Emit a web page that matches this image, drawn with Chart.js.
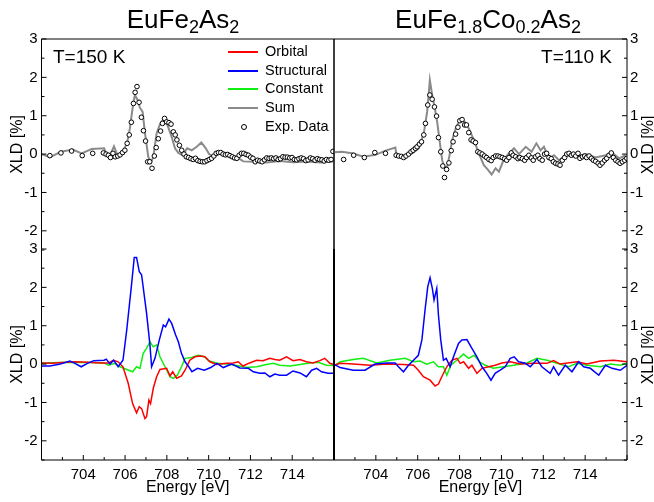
<!DOCTYPE html>
<html>
<head>
<meta charset="utf-8">
<script src="https://cdn.jsdelivr.net/npm/chart.js@4.4.1/dist/chart.umd.min.js"></script>
<style>
  body { margin: 0; background: #fff; }
  #wrap { position: relative; width: 654px; height: 502px; overflow: hidden;
          font-family: "Liberation Sans", Arial, sans-serif; color: #000; }
  #wrap canvas { position: absolute; left: 0; top: 0; }
  .t { position: absolute; white-space: nowrap; line-height: 1; }
  .ttl { font-size: 26px; text-align: center; }
  .sb { font-size: 18px; vertical-align: -5px; }
  .tl { font-size: 19px; }
  .lg { font-size: 14.5px; }
  .yt { font-size: 16px; width: 80px; text-align: center; transform: rotate(-90deg); }
</style>
</head>
<body>
<div id="wrap">
  <canvas id="tl" width="654" height="502"></canvas>
  <canvas id="tr" width="654" height="502"></canvas>
  <canvas id="bl" width="654" height="502"></canvas>
  <canvas id="br" width="654" height="502"></canvas>
  <div class="t ttl" style="left:83px;width:200px;top:6px">EuFe<span class="sb">2</span>As<span class="sb">2</span></div>
  <div class="t ttl" style="left:388px;width:200px;top:6px">EuFe<span class="sb">1.8</span>Co<span class="sb">0.2</span>As<span class="sb">2</span></div>
  <div class="t tl" style="left:53px;top:47px">T=150 K</div>
  <div class="t tl" style="right:42px;top:47px">T=110 K</div>
  <div class="t yt" style="left:608px;top:137px">XLD [%]</div>
  <div class="t yt" style="left:608px;top:347px">XLD [%]</div>
  <div id="legend"></div>
</div>
<script>
// energy axis (eV) and XLD axis (%)
const energyRange = [702, 716];
const xldRange = [-2.5, 3];

const legendNames = ['Orbital', 'Structural', 'Constant', 'Sum', 'Exp. Data'];

// ---- EuFe2As2, T=150 K ----
const tlSum = [[702.0,0.0],[702.41,-0.08],[702.93,0.06],[703.5,0.12],[703.92,0.02],[704.4,0.13],[705.0,0.15],[705.1,-0.01],[705.28,-0.03],[705.47,0.2],[705.65,-0.05],[705.92,0.08],[706.11,0.32],[706.23,0.67],[706.39,1.32],[706.47,1.54],[706.6,1.41],[706.71,1.21],[706.84,1.1],[706.95,0.56],[707.11,-0.07],[707.24,-0.22],[707.35,-0.07],[707.51,0.54],[707.67,0.78],[707.84,0.91],[708.0,0.8],[708.23,0.45],[708.39,0.15],[708.55,0.03],[708.75,-0.03],[708.97,0.15],[709.19,0.1],[709.43,0.19],[709.65,0.3],[709.84,0.17],[710.02,0.0],[710.25,-0.07],[710.58,0.05],[710.86,0.03],[711.15,-0.06],[711.4,-0.1],[711.66,-0.19],[712.13,-0.2],[712.77,-0.22],[713.41,-0.18],[714.05,-0.21],[714.69,-0.19],[715.33,-0.22],[715.96,-0.19]];
const tlExp = [[702.4,-0.04],[702.93,0.03],[703.44,0.08],[703.95,-0.04],[704.45,0.02],[704.96,0.03],[705.09,0.0],[705.2,-0.03],[705.3,-0.09],[705.42,0.02],[705.53,-0.07],[705.65,-0.05],[705.76,-0.02],[705.88,0.04],[705.99,0.1],[706.1,0.28],[706.2,0.5],[706.3,0.83],[706.4,1.32],[706.48,1.61],[706.57,1.76],[706.67,1.35],[706.78,0.96],[706.88,0.61],[706.98,0.34],[707.08,-0.2],[707.18,-0.2],[707.29,-0.37],[707.4,-0.05],[707.49,0.17],[707.59,0.4],[707.7,0.6],[707.79,0.8],[707.89,0.93],[707.99,0.84],[708.1,0.82],[708.2,0.78],[708.31,0.58],[708.4,0.5],[708.48,0.37],[708.6,0.23],[708.71,0.1],[708.82,0.0],[708.93,-0.07],[709.04,-0.09],[709.15,-0.12],[709.26,-0.14],[709.37,-0.11],[709.48,-0.17],[709.59,-0.19],[709.7,-0.2],[709.81,-0.2],[709.92,-0.17],[710.03,-0.14],[710.14,-0.11],[710.25,-0.05],[710.36,0.02],[710.47,0.04],[710.58,0.04],[710.69,0.0],[710.8,-0.02],[710.91,-0.01],[711.02,-0.04],[711.13,-0.07],[711.24,-0.1],[711.35,-0.11],[711.46,-0.03],[711.57,0.02],[711.68,0.02],[711.79,-0.01],[711.9,-0.03],[712.01,-0.08],[712.12,-0.11],[712.23,-0.2],[712.34,-0.16],[712.45,-0.18],[712.56,-0.2],[712.67,-0.15],[712.78,-0.1],[712.89,-0.11],[713.0,-0.1],[713.11,-0.12],[713.22,-0.1],[713.33,-0.14],[713.44,-0.12],[713.55,-0.07],[713.66,-0.08],[713.77,-0.08],[713.88,-0.1],[713.99,-0.09],[714.1,-0.14],[714.21,-0.15],[714.32,-0.12],[714.43,-0.1],[714.54,-0.12],[714.65,-0.17],[714.76,-0.15],[714.87,-0.1],[714.98,-0.12],[715.09,-0.16],[715.2,-0.12],[715.31,-0.14],[715.42,-0.15],[715.53,-0.18],[715.64,-0.14],[715.75,-0.16],[715.86,-0.14],[715.95,0.07]];
const blOrbital = [[702.0,0.03],[702.5,0.02],[703.0,0.04],[703.6,0.06],[704.2,0.05],[704.8,0.03],[705.2,0.03],[705.45,0.1],[705.67,0.06],[705.9,-0.07],[706.15,-0.5],[706.36,-1.03],[706.55,-1.27],[706.68,-1.11],[706.79,-1.16],[706.95,-1.42],[707.03,-1.37],[707.14,-0.94],[707.22,-1.03],[707.35,-0.63],[707.51,-0.33],[707.67,-0.14],[707.99,-0.11],[708.15,-0.31],[708.28,-0.2],[708.47,-0.37],[708.7,-0.31],[708.87,-0.16],[709.1,0.1],[709.34,0.19],[709.6,0.21],[709.82,0.19],[710.06,0.06],[710.38,-0.01],[710.86,0.02],[711.18,0.03],[711.42,0.06],[711.64,-0.05],[711.96,0.03],[712.3,0.1],[712.6,0.09],[712.93,0.15],[713.17,0.12],[713.4,0.1],[713.73,0.19],[714.04,0.09],[714.37,0.12],[714.68,0.06],[715.0,0.03],[715.32,0.09],[715.56,0.15],[715.8,0.02],[716.0,-0.01]];
const blStructural = [[702.0,-0.05],[702.4,-0.05],[702.9,0.0],[703.36,0.08],[703.6,0.02],[703.9,-0.07],[704.2,0.02],[704.5,0.09],[705.0,0.1],[705.1,0.13],[705.28,0.0],[705.45,0.1],[705.67,-0.07],[705.9,0.1],[706.08,0.89],[706.3,2.02],[706.44,2.78],[706.55,2.78],[706.68,2.41],[706.79,2.33],[707.03,1.32],[707.19,0.5],[707.27,-0.07],[707.43,0.15],[707.64,0.63],[707.83,1.02],[707.94,0.97],[708.1,1.17],[708.23,1.06],[708.42,0.76],[708.55,0.58],[708.7,0.28],[708.87,0.06],[709.05,-0.07],[709.2,-0.2],[709.47,-0.11],[709.79,-0.16],[710.1,-0.09],[710.4,0.02],[710.7,-0.09],[711.1,0.0],[711.5,-0.1],[711.9,-0.11],[712.14,-0.2],[712.45,-0.24],[712.69,-0.23],[712.93,-0.33],[713.17,-0.26],[713.4,-0.29],[713.73,-0.29],[714.04,-0.18],[714.37,-0.23],[714.68,-0.33],[714.93,-0.16],[715.17,-0.11],[715.4,-0.2],[715.72,-0.24],[716.0,-0.24]];
const blConstant = [[702.0,0.02],[702.8,0.04],[703.6,0.05],[704.4,0.04],[705.0,0.03],[705.2,-0.03],[705.52,0.02],[705.76,-0.07],[706.08,-0.14],[706.36,-0.2],[706.55,-0.07],[706.71,-0.11],[706.87,0.28],[707.03,0.41],[707.19,0.58],[707.35,0.45],[707.51,0.5],[707.67,0.19],[707.91,-0.07],[708.15,-0.33],[708.31,-0.37],[708.5,-0.29],[708.7,-0.07],[708.87,0.15],[709.19,0.17],[709.5,0.23],[709.79,0.19],[710.0,0.09],[710.4,0.02],[710.87,0.0],[711.3,-0.03],[711.8,-0.09],[712.3,-0.07],[712.77,-0.01],[713.1,0.02],[713.4,-0.03],[713.9,-0.05],[714.37,-0.01],[714.84,0.03],[715.24,0.05],[715.64,-0.03],[716.0,-0.04]];

// ---- EuFe1.8Co0.2As2, T=110 K ----
const trSum = [[702.0,0.05],[702.38,0.06],[702.86,0.02],[703.42,-0.07],[703.98,-0.02],[704.46,0.09],[704.93,0.17],[704.98,0.0],[705.25,-0.07],[705.73,0.02],[706.05,0.15],[706.29,0.54],[706.45,1.1],[706.58,1.93],[706.69,1.54],[706.82,1.19],[706.94,0.8],[707.04,0.37],[707.17,-0.16],[707.28,-0.35],[707.41,-0.33],[707.52,-0.03],[707.65,0.37],[707.84,0.71],[708.04,0.9],[708.25,0.84],[708.44,0.67],[708.68,0.37],[708.92,0.02],[709.16,-0.29],[709.37,-0.42],[709.53,-0.53],[709.72,-0.37],[709.88,-0.46],[710.07,-0.2],[710.28,-0.03],[710.6,0.15],[710.84,0.0],[711.16,0.19],[711.44,0.06],[711.67,0.28],[711.87,0.1],[712.03,0.19],[712.27,-0.11],[712.51,-0.03],[712.75,-0.16],[713.07,-0.03],[713.55,-0.07],[714.03,0.0],[714.5,-0.09],[714.98,-0.03],[715.3,0.03],[715.62,-0.11],[715.94,-0.03]];
const trExp = [[702.46,-0.14],[702.94,-0.03],[703.45,-0.09],[703.95,0.04],[704.46,0.02],[704.97,-0.03],[705.09,-0.05],[705.22,-0.06],[705.33,-0.09],[705.44,-0.05],[705.57,0.0],[705.68,0.06],[705.78,0.1],[705.89,0.15],[705.97,0.19],[706.08,0.26],[706.18,0.32],[706.29,0.5],[706.37,0.8],[706.48,1.28],[706.58,1.54],[706.69,1.43],[706.8,1.23],[706.9,0.99],[706.99,0.43],[707.1,0.06],[707.2,-0.31],[707.28,-0.61],[707.38,-0.4],[707.49,-0.23],[707.6,0.09],[707.69,0.32],[707.81,0.52],[707.92,0.7],[708.01,0.87],[708.12,0.9],[708.24,0.76],[708.33,0.76],[708.44,0.56],[708.55,0.37],[708.65,0.34],[708.76,0.3],[708.87,0.06],[708.97,0.03],[709.08,0.0],[709.19,-0.05],[709.29,-0.09],[709.4,-0.14],[709.51,-0.17],[709.61,-0.09],[709.72,-0.05],[709.83,-0.05],[709.93,-0.07],[710.04,-0.09],[710.15,-0.12],[710.25,-0.16],[710.36,-0.09],[710.47,0.03],[710.56,-0.03],[710.68,-0.07],[710.79,-0.12],[710.88,-0.09],[711.0,-0.12],[711.11,-0.16],[711.2,-0.09],[711.31,-0.03],[711.43,-0.1],[711.52,-0.16],[711.63,-0.07],[711.74,-0.03],[711.84,-0.12],[711.95,-0.16],[712.06,0.0],[712.16,0.02],[712.27,-0.09],[712.38,-0.12],[712.48,-0.2],[712.59,-0.24],[712.7,-0.26],[712.8,-0.29],[712.91,-0.16],[713.02,-0.09],[713.12,0.0],[713.23,0.02],[713.34,-0.03],[713.44,0.0],[713.55,-0.05],[713.66,0.02],[713.75,-0.11],[713.87,-0.07],[713.98,-0.05],[714.07,-0.09],[714.19,-0.05],[714.3,-0.11],[714.39,-0.16],[714.5,-0.19],[714.62,-0.24],[714.71,-0.29],[714.82,-0.23],[714.93,-0.16],[715.03,-0.11],[715.14,-0.03],[715.25,0.03],[715.35,-0.09],[715.46,-0.16],[715.57,-0.2],[715.67,-0.24],[715.78,-0.2],[715.89,-0.16],[715.99,-0.11]];
const brOrbital = [[702.0,-0.03],[702.3,0.02],[702.92,0.0],[703.72,-0.03],[704.52,0.0],[705.32,-0.01],[705.8,-0.03],[706.03,-0.16],[706.27,-0.33],[706.59,-0.42],[706.83,-0.57],[706.99,-0.52],[707.15,-0.33],[707.39,-0.07],[707.63,0.1],[707.87,0.15],[708.03,0.02],[708.19,0.06],[708.43,-0.11],[708.59,-0.03],[708.83,-0.24],[709.07,-0.11],[709.39,-0.07],[709.7,-0.03],[710.02,0.03],[710.42,0.06],[710.9,0.0],[711.54,0.02],[712.18,0.02],[712.49,0.09],[712.81,0.0],[713.61,0.06],[714.09,0.0],[714.73,0.08],[715.37,0.1],[716.0,0.06]];
const brStructural = [[702.0,0.0],[702.29,-0.09],[702.92,-0.16],[703.48,-0.16],[703.96,0.0],[704.52,0.03],[704.92,0.03],[705.08,-0.07],[705.32,-0.2],[705.56,-0.03],[705.8,0.1],[706.03,0.23],[706.2,0.63],[706.35,1.41],[706.48,2.02],[706.59,2.25],[706.7,1.97],[706.78,1.67],[706.91,1.97],[706.99,1.28],[707.1,0.63],[707.23,0.1],[707.36,0.15],[707.55,-0.07],[707.71,0.19],[707.95,0.54],[708.11,0.63],[708.35,0.64],[708.59,0.41],[708.83,0.19],[709.07,-0.07],[709.3,-0.24],[709.5,-0.42],[709.7,-0.24],[709.94,-0.16],[710.18,-0.07],[710.42,0.15],[710.61,0.19],[710.82,0.06],[711.14,0.02],[711.38,-0.07],[711.7,0.12],[711.93,-0.07],[712.33,-0.24],[712.49,-0.07],[712.73,-0.29],[713.05,-0.03],[713.37,-0.2],[713.69,0.06],[713.93,-0.07],[714.25,-0.11],[714.65,-0.29],[714.97,-0.03],[715.29,-0.11],[715.68,-0.16],[716.0,-0.03]];
const brConstant = [[702.0,-0.05],[702.3,0.06],[702.92,0.12],[703.4,0.15],[704.04,0.03],[704.68,0.1],[705.4,0.15],[705.8,0.06],[706.11,0.08],[706.43,0.0],[706.75,0.06],[706.99,-0.07],[707.23,-0.07],[707.39,-0.29],[707.58,-0.03],[707.87,0.1],[708.19,0.26],[708.43,0.15],[708.7,0.23],[708.95,0.06],[709.22,-0.03],[709.62,-0.11],[710.1,-0.07],[710.58,-0.03],[711.22,0.03],[711.7,0.15],[712.18,0.1],[712.66,0.02],[713.21,-0.07],[713.61,0.02],[714.09,-0.03],[714.73,-0.07],[715.2,0.0],[715.68,-0.03],[716.0,0.02]];

const RED = '#ff0000', BLUE = '#0000ff', GREEN = '#11ee11', GRAY = '#8a8a8a';

Chart.defaults.font.family = '"Liberation Sans", Arial, sans-serif';
Chart.defaults.color = '#000';

function lineSet(label, pts, color, width) {
  return {
    label: label,
    data: pts.map(([x, y]) => ({ x: x, y: y })),
    borderColor: color,
    borderWidth: width,
    pointRadius: 0,
    tension: 0,
    fill: false
  };
}

function dotSet(label, pts) {
  return {
    label: label,
    data: pts.map(([x, y]) => ({ x: x, y: y })),
    showLine: false,
    pointRadius: 2.3,
    pointBorderWidth: 1,
    pointBorderColor: '#000',
    pointBackgroundColor: '#fff'
  };
}

// frame lines and inward tick marks
const framePlugin = {
  id: 'frame',
  afterDraw(chart, args, o) {
    const { ctx, chartArea: a, scales } = chart;
    const seg = (x1, y1, x2, y2, w) => {
      ctx.lineWidth = w || 1;
      ctx.beginPath();
      ctx.moveTo(x1, y1);
      ctx.lineTo(x2, y2);
      ctx.stroke();
    };
    ctx.save();
    ctx.strokeStyle = '#000';
    if (o.top) seg(a.left, a.top, a.right, a.top);
    if (o.bottom) seg(a.left, a.bottom, a.right, a.bottom);
    seg(a.left, a.top, a.left, a.bottom, o.leftW);
    seg(a.right, a.top, a.right, a.bottom, o.rightW);

    const ys = o.ySide === 'left' ? a.left : a.right;
    const dir = o.ySide === 'left' ? 1 : -1;
    scales.y.ticks.forEach(t => {
      const y = scales.y.getPixelForValue(t.value);
      seg(ys, y, ys + dir * (Number.isInteger(t.value) ? 5 : 3), y);
    });
    if (o.bottom) {
      scales.x.ticks.forEach(t => {
        const x = scales.x.getPixelForValue(t.value);
        seg(x, a.bottom, x, a.bottom - (Math.round(t.value) % 2 === 0 ? 5 : 3));
      });
    }
    ctx.restore();
  }
};

function makePanel(id, datasets, ySide, showX, padding, frame) {
  return new Chart(document.getElementById(id), {
    type: 'line',
    data: { datasets: datasets },
    options: {
      responsive: false,
      animation: false,
      events: [],
      layout: { padding: padding },
      plugins: {
        legend: { display: false },
        tooltip: { enabled: false },
        frame: Object.assign({ ySide: ySide }, frame)
      },
      scales: {
        x: {
          type: 'linear',
          min: energyRange[0],
          max: energyRange[1],
          display: showX,
          grid: { display: false, drawTicks: false },
          border: { display: false },
          ticks: {
            stepSize: 1,
            autoSkip: false,
            maxRotation: 0,
            padding: 6,
            font: { size: 15 },
            callback: v => {
              const r = Math.round(v);
              return (r % 2 === 0 && r > energyRange[0] && r < energyRange[1]) ? String(r) : '';
            }
          },
          title: { display: true, text: 'Energy [eV]', font: { size: 16 }, padding: { top: 0, bottom: 5 } },
          afterFit: s => { s.height = showX ? 42 : 0; }
        },
        y: {
          position: ySide,
          min: xldRange[0],
          max: xldRange[1],
          grid: { display: false, drawTicks: false },
          border: { display: false },
          ticks: {
            stepSize: 0.5,
            autoSkip: false,
            padding: ySide === 'left' ? 4 : 3,
            font: { size: 15 },
            callback: v => Number.isInteger(v) ? String(v) : ''
          },
          title: { display: ySide === 'left', text: 'XLD [%]', font: { size: 16 }, padding: { top: 8, bottom: 0 } },
          afterFit: s => { s.width = ySide === 'left' ? 41.5 : 27; }
        }
      }
    },
    plugins: [framePlugin]
  });
}

makePanel('tl', [dotSet(legendNames[4], tlExp), lineSet(legendNames[3], tlSum, GRAY, 2)],
  'left', false, { left: 0, right: 320, top: 39, bottom: 252 }, { top: true });
makePanel('tr', [dotSet(legendNames[4], trExp), lineSet(legendNames[3], trSum, GRAY, 2)],
  'right', false, { left: 334, right: 0, top: 39, bottom: 252 }, { top: true });
makePanel('bl', [lineSet(legendNames[1], blStructural, BLUE, 1.5), lineSet(legendNames[0], blOrbital, RED, 1.5), lineSet(legendNames[2], blConstant, GREEN, 1.5)],
  'left', true, { left: 0, right: 320, top: 249, bottom: 0 }, { bottom: true, rightW: 2 });
makePanel('br', [lineSet(legendNames[1], brStructural, BLUE, 1.5), lineSet(legendNames[0], brOrbital, RED, 1.5), lineSet(legendNames[2], brConstant, GREEN, 1.5)],
  'right', true, { left: 334, right: 0, top: 249, bottom: 0 }, { bottom: true, leftW: 2 });

// legend in the top-left panel
const legendColors = [RED, BLUE, GREEN, GRAY, null];
const legend = document.getElementById('legend');
legendNames.forEach((name, i) => {
  const yc = 52 + i * 18.7;
  const mark = document.createElement('div');
  mark.style.position = 'absolute';
  if (legendColors[i]) {
    Object.assign(mark.style, { left: '228px', top: (yc - 1) + 'px', width: '30px', height: '2px', background: legendColors[i] });
  } else {
    Object.assign(mark.style, { left: '240.5px', top: (yc - 3) + 'px', width: '4px', height: '4px', border: '1px solid #000', borderRadius: '50%', background: '#fff' });
  }
  legend.appendChild(mark);
  const txt = document.createElement('div');
  txt.className = 't lg';
  txt.style.left = '265px';
  txt.style.top = (yc - 8) + 'px';
  txt.textContent = name;
  legend.appendChild(txt);
});
</script>
</body>
</html>
